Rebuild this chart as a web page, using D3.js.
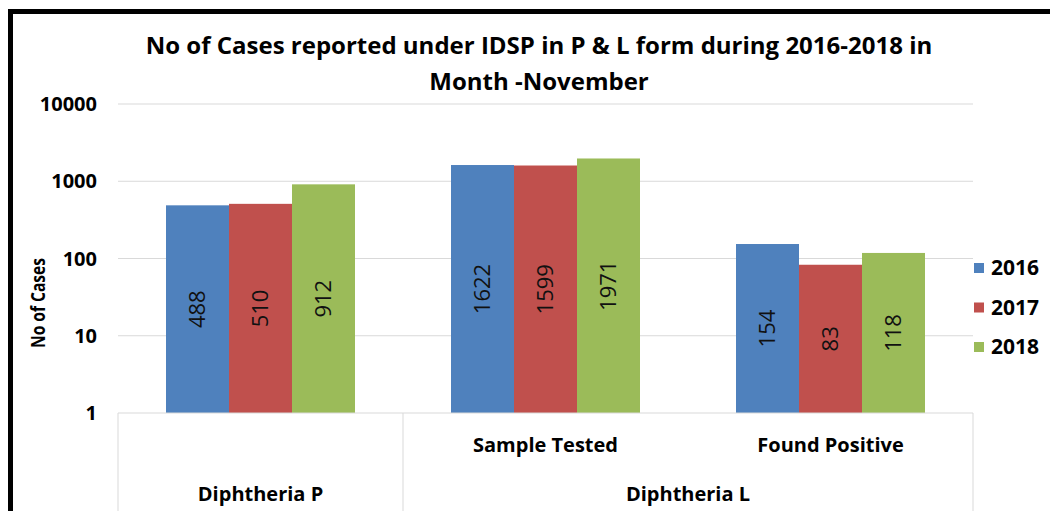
<!DOCTYPE html>
<html>
<head>
<meta charset="utf-8">
<script src="https://cdn.jsdelivr.net/npm/d3@7"></script>
<style>
  html, body { margin: 0; padding: 0; background: #fff; }
  svg { display: block; }
  text { font-family: "Open Sans", sans-serif; }
</style>
</head>
<body>
<svg id="chart" width="1050" height="511"></svg>
<script>
const categories = ["Diphtheria P", "Sample Tested", "Found Positive"];
const subCategoryLabels = ["", "Sample Tested", "Found Positive"];
const groups = [{name: "Diphtheria P", from: 0, to: 0}, {name: "Diphtheria L", from: 1, to: 2}];
const seriesNames = ["2016", "2017", "2018"];
const values2016 = [488, 1622, 154];
const values2017 = [510, 1599, 83];
const values2018 = [912, 1971, 118];
const yTicks = [1, 10, 100, 1000, 10000];
const colors = ["#4f81bd", "#c0504d", "#9bbb59"];
const titleLines = ["No of Cases reported under IDSP in P & L form during 2016-2018  in", "Month -November"];
const yAxisTitle = "No of Cases";

const seriesValues = [values2016, values2017, values2018];
const svg = d3.select("#chart");

const plotLeft = 118, plotRight = 973, plotTop = 104, plotBottom = 413;
const y = d3.scaleLog().domain([1, 10000]).range([plotBottom, plotTop]);
const x0 = d3.scaleBand().domain(categories).range([plotLeft, plotRight]).padding(0);
const x1 = d3.scaleBand().domain(seriesNames).range([0, x0.bandwidth()]).paddingInner(0).paddingOuter(0.762);

// border
svg.append("rect").attr("x", 8).attr("y", 9).attr("width", 1042).attr("height", 5).attr("fill", "#000");
svg.append("rect").attr("x", 8).attr("y", 9).attr("width", 5).attr("height", 502).attr("fill", "#000");

// gridlines
svg.append("g").selectAll("line").data(yTicks.filter(d => d > 1)).join("line")
  .attr("x1", plotLeft).attr("x2", plotRight)
  .attr("y1", d => y(d)).attr("y2", d => y(d))
  .attr("stroke", "#d9d9d9").attr("stroke-width", 1);

// y tick labels
svg.append("g").selectAll("text").data(yTicks).join("text")
  .attr("x", 97).attr("y", d => y(d)).attr("dy", "0.35em")
  .attr("text-anchor", "end").attr("font-weight", "bold").attr("font-size", 20).attr("fill", "#000")
  .text(d => d);

// y axis title
svg.append("text")
  .attr("transform", `translate(38,303) rotate(-90)`)
  .attr("text-anchor", "middle").attr("dy", "0.35em").attr("font-weight", "bold").attr("font-size", 20)
  .attr("textLength", 90).attr("lengthAdjust", "spacingAndGlyphs").attr("fill", "#000")
  .text(yAxisTitle);

// bars
const gCat = svg.append("g").selectAll("g").data(categories).join("g")
  .attr("transform", d => `translate(${x0(d)},0)`);
gCat.selectAll("rect").data((d, i) => seriesNames.map((s, j) => ({s, v: seriesValues[j][i], j}))).join("rect")
  .attr("x", d => x1(d.s)).attr("width", x1.bandwidth())
  .attr("y", d => y(d.v)).attr("height", d => y(1) - y(d.v))
  .attr("fill", d => colors[d.j]);
gCat.selectAll("text.val").data((d, i) => seriesNames.map((s, j) => ({s, v: seriesValues[j][i], j}))).join("text")
  .attr("class", "val")
  .attr("transform", d => `translate(${x1(d.s) + x1.bandwidth() / 2},${(y(d.v) + y(1)) / 2}) rotate(-90)`)
  .attr("text-anchor", "middle").attr("dy", "0.35em").attr("font-size", 22).attr("fill", "#111")
  .text(d => d.v);

// x axis line and category dividers
svg.append("line").attr("x1", plotLeft).attr("x2", plotRight).attr("y1", plotBottom).attr("y2", plotBottom)
  .attr("stroke", "#d9d9d9");
const dividers = [x0(categories[0]), x0(categories[1]), x0(categories[2]) + x0.bandwidth()];
svg.append("g").selectAll("line").data(dividers).join("line")
  .attr("x1", d => d).attr("x2", d => d).attr("y1", plotBottom).attr("y2", 511)
  .attr("stroke", "#d9d9d9");

// sub-category labels
svg.append("g").selectAll("text").data(categories).join("text")
  .attr("x", d => x0(d) + x0.bandwidth() / 2).attr("y", 452)
  .attr("text-anchor", "middle").attr("font-weight", "bold").attr("font-size", 20).attr("fill", "#000")
  .text((d, i) => subCategoryLabels[i]);

// group labels
svg.append("g").selectAll("text").data(groups).join("text")
  .attr("x", d => (x0(categories[d.from]) + x0(categories[d.to]) + x0.bandwidth()) / 2).attr("y", 501)
  .attr("text-anchor", "middle").attr("font-weight", "bold").attr("font-size", 20).attr("fill", "#000")
  .text(d => d.name);

// title
svg.append("g").selectAll("text").data(titleLines).join("text")
  .attr("x", 539).attr("y", (d, i) => 54 + i * 36)
  .attr("text-anchor", "middle").attr("font-weight", "bold").attr("font-size", 24).attr("fill", "#000")
  .text(d => d);

// legend
const leg = svg.append("g").selectAll("g").data(seriesNames).join("g")
  .attr("transform", (d, i) => `translate(974,${268 + i * 39.5})`);
leg.append("rect").attr("x", 0).attr("y", -5).attr("width", 10).attr("height", 10).attr("fill", (d, i) => colors[i]);
leg.append("text").attr("x", 17).attr("dy", "0.35em").attr("font-weight", "bold").attr("font-size", 21).attr("fill", "#000").text(d => d);
</script>
</body>
</html>
